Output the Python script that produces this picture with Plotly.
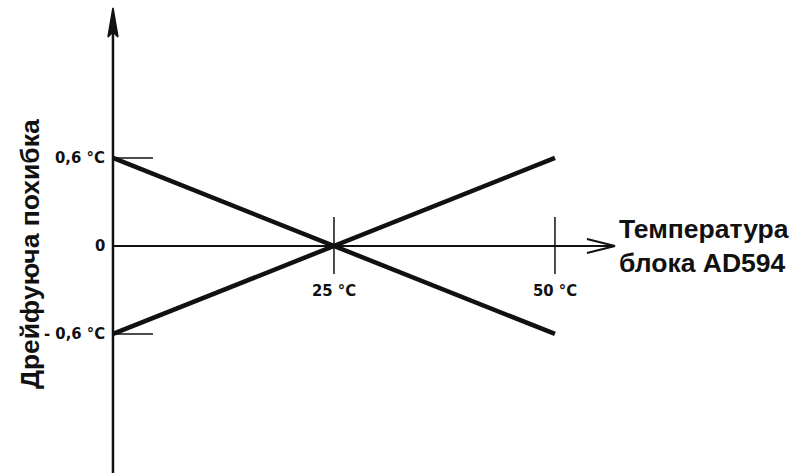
import plotly.graph_objects as go

# Drift error of the AD594 vs. block temperature
temps = [0, 25, 50]
drift_rising = [-0.6, 0.0, 0.6]
drift_falling = [0.6, 0.0, -0.6]

y_ticks = [0.6, 0.0, -0.6]
y_tick_labels = ["0,6 °C", "0", "- 0,6 °C"]
x_ticks = [25, 50]
x_tick_labels = ["25 °C", "50 °C"]

W, H = 794, 473
X_RANGE = [-12.78, 77.04]
Y_RANGE = [-1.548, 1.677]
PX_X = W / (X_RANGE[1] - X_RANGE[0])   # pixels per °C
PX_Y = H / (Y_RANGE[1] - Y_RANGE[0])   # pixels per drift unit


def dx(px):
    return px / PX_X


def dy(px):
    return px / PX_Y


INK = "#111111"
TICK_FONT = dict(family="DejaVu Sans Condensed, Liberation Sans Narrow, Arial Narrow",
                 size=16.5, color=INK)
fig = go.Figure()

# drift lines
for ys in (drift_rising, drift_falling):
    fig.add_trace(go.Scatter(x=temps, y=ys, mode="lines",
                             line=dict(color=INK, width=4.5),
                             hoverinfo="skip", showlegend=False))

# vertical axis with filled arrow
y_top = dy(246 - 8)
fig.add_trace(go.Scatter(x=[0, 0], y=[Y_RANGE[0], y_top - dy(20)], mode="lines",
                         line=dict(color=INK, width=2.5), hoverinfo="skip", showlegend=False))
fig.add_trace(go.Scatter(x=[0, -dx(5), 0, dx(5), 0],
                         y=[y_top, y_top - dy(29), y_top - dy(24), y_top - dy(29), y_top],
                         mode="lines", fill="toself", fillcolor=INK,
                         line=dict(color=INK, width=1.5), hoverinfo="skip", showlegend=False))

# horizontal axis with open arrow
x_end = dx(615 - 113)
fig.add_trace(go.Scatter(x=[0, x_end], y=[0, 0], mode="lines",
                         line=dict(color=INK, width=2), hoverinfo="skip", showlegend=False))
fig.add_trace(go.Scatter(x=[x_end - dx(28), x_end, x_end - dx(28)],
                         y=[dy(7), 0, -dy(7)], mode="lines",
                         line=dict(color=INK, width=2), hoverinfo="skip", showlegend=False))

# y tick marks and labels
for v, lab in zip(y_ticks, y_tick_labels):
    if v != 0:
        fig.add_trace(go.Scatter(x=[0, dx(40)], y=[v, v], mode="lines",
                                 line=dict(color=INK, width=1.5),
                                 hoverinfo="skip", showlegend=False))
    fig.add_annotation(x=-dx(6), y=v, text="<b>" + lab + "</b>", showarrow=False,
                       xanchor="right", yanchor="middle", font=TICK_FONT)

# x tick marks and labels
for t, lab in zip(x_ticks, x_tick_labels):
    fig.add_trace(go.Scatter(x=[t, t], y=[dy(29), -dy(28)], mode="lines",
                             line=dict(color=INK, width=1.5),
                             hoverinfo="skip", showlegend=False))
    fig.add_annotation(x=t, y=-dy(45), text="<b>" + lab + "</b>", showarrow=False,
                       xanchor="center", yanchor="middle", font=TICK_FONT)

# axis titles
fig.add_annotation(x=617 / W, y=1 - 246 / H, xref="paper", yref="paper",
                   text="<b>Температура<br>блока AD594</b>", showarrow=False,
                   xanchor="left", yanchor="middle", align="left",
                   font=dict(family="Liberation Sans, Arial", size=26.5, color=INK))
fig.add_annotation(x=30 / W, y=1 - 254 / H, xref="paper", yref="paper",
                   text="<b>Дрейфуюча похибка</b>", showarrow=False, textangle=-90,
                   xanchor="center", yanchor="middle",
                   font=dict(family="Liberation Sans, Arial", size=26.5, color=INK))

fig.update_layout(
    width=W, height=H, autosize=False,
    margin=dict(l=0, r=0, t=0, b=0),
    paper_bgcolor="white", plot_bgcolor="white",
    xaxis=dict(range=X_RANGE, visible=False, fixedrange=True),
    yaxis=dict(range=Y_RANGE, visible=False, fixedrange=True),
    showlegend=False,
)

fig.write_html("out.html")
